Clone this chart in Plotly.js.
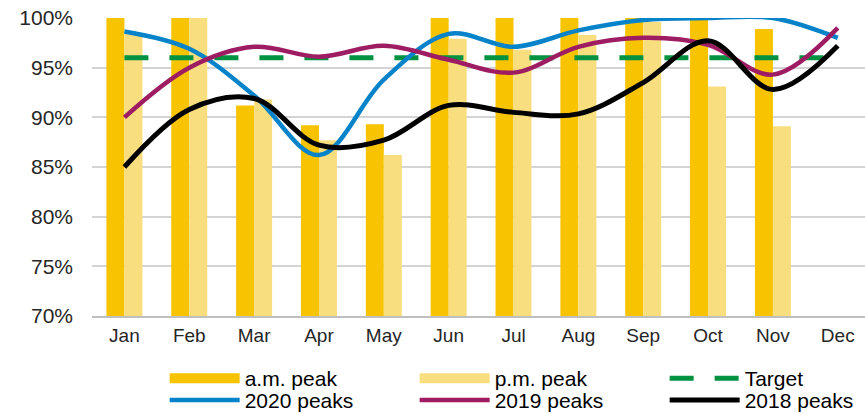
<!DOCTYPE html>
<html>
<head>
<meta charset="utf-8">
<script src="https://cdn.plot.ly/plotly-3.0.1.min.js"></script>
<style>html,body{margin:0;padding:0;background:#fff;}#chart{width:865px;height:415px;}</style>
</head>
<body>
<div id="chart"></div>
<script>
const months = ["Jan","Feb","Mar","Apr","May","Jun","Jul","Aug","Sep","Oct","Nov","Dec"];
const amPeak = [100, 100, 91.2, 89.2, 89.3, 100, 100, 100, 100, 99.8, 98.9, null];
const pmPeak = [98.4, 100, 91.8, 87.7, 86.2, 97.9, 96.8, 98.3, 99.6, 93.1, 89.1, null];
const target = [96, 96, 96, 96, 96, 96, 96, 96, 96, 96, 96, 96];
const peaks2020 = [98.65, 96.9, 92.2, 86.2, 93.8, 98.4, 97.1, 98.75, 99.8, 100, 100, 98.0];
const peaks2019 = [90.0, 95.0, 97.1, 96.1, 97.2, 95.8, 94.5, 97.1, 98.0, 97.3, 94.3, 99.0];
const peaks2018 = [85.0, 90.8, 91.9, 87.2, 87.7, 91.2, 90.5, 90.35, 93.5, 97.7, 92.8, 97.2];
const yTicks = [70, 75, 80, 85, 90, 95, 100];

const C = {am:"#F8C300", pm:"#F9DE7F", target:"#009240", b2020:"#0783C9", b2019:"#9E1C62", b2018:"#000000"};
const lineW = 4.5;

const traces = [
  {type:"bar", name:"a.m. peak", x:months, y:amPeak, marker:{color:C.am}, showlegend:false},
  {type:"bar", name:"p.m. peak", x:months, y:pmPeak, marker:{color:C.pm}, showlegend:false},
  // legend-only swatches for the bars (wide rectangles like the reference)
  {type:"scatter", mode:"lines", name:"a.m. peak", x:[null], y:[null], line:{color:C.am, width:12}, legend:"legend", hoverinfo:"skip"},
  {type:"scatter", mode:"lines", name:"p.m. peak", x:[null], y:[null], line:{color:C.pm, width:12}, legend:"legend", hoverinfo:"skip"},
  {type:"scatter", mode:"lines", name:"Target", x:months, y:target,
   line:{color:C.target, width:5, dash:"24px,21px"}, legend:"legend", cliponaxis:false},
  {type:"scatter", mode:"lines", name:"2020 peaks", x:months, y:peaks2020,
   line:{color:C.b2020, width:lineW, shape:"spline", smoothing:1}, legend:"legend2", cliponaxis:false},
  {type:"scatter", mode:"lines", name:"2019 peaks", x:months, y:peaks2019,
   line:{color:C.b2019, width:lineW, shape:"spline", smoothing:1}, legend:"legend2", cliponaxis:false},
  {type:"scatter", mode:"lines", name:"2018 peaks", x:months, y:peaks2018,
   line:{color:C.b2018, width:lineW+0.5, shape:"spline", smoothing:1}, legend:"legend2", cliponaxis:false}
];

const legBase = {orientation:"h", x:0.094, xanchor:"left", yanchor:"middle",
  entrywidth:165, entrywidthmode:"pixels", itemwidth:70, tracegroupgap:0,
  font:{size:21, color:"#000"}, traceorder:"normal", itemclick:false,
  bgcolor:"rgba(0,0,0,0)", borderwidth:0};

const layout = {
  width:865, height:415,
  margin:{l:92, r:0, t:18, b:99, pad:0, autoexpand:false},
  paper_bgcolor:"#fff", plot_bgcolor:"#fff",
  font:{family:"Liberation Sans, Arial, sans-serif", size:20, color:"#262626"},
  barmode:"group", bargap:0.445, bargroupgap:0,
  showlegend:true,
  legend:Object.assign({}, legBase, {y:-0.21}),
  legend2:Object.assign({}, legBase, {y:-0.283}),
  xaxis:{type:"category", range:[-0.5, 11.42], showgrid:false, showline:true,
         linecolor:"#bfbfbf", linewidth:2, ticks:"", ticklabelstandoff:1,
         tickfont:{size:19}, fixedrange:true},
  yaxis:{range:[70, 100], tickvals:yTicks, ticktext:yTicks.map(v=>v+"%"),
         showgrid:true, gridcolor:"#d4d4d4", gridwidth:2, zeroline:false,
         showline:false, ticks:"", ticklabelstandoff:18, tickfont:{size:21}, fixedrange:true}
};

Plotly.newPlot("chart", traces, layout, {displayModeBar:false, staticPlot:true});
</script>
</body>
</html>
